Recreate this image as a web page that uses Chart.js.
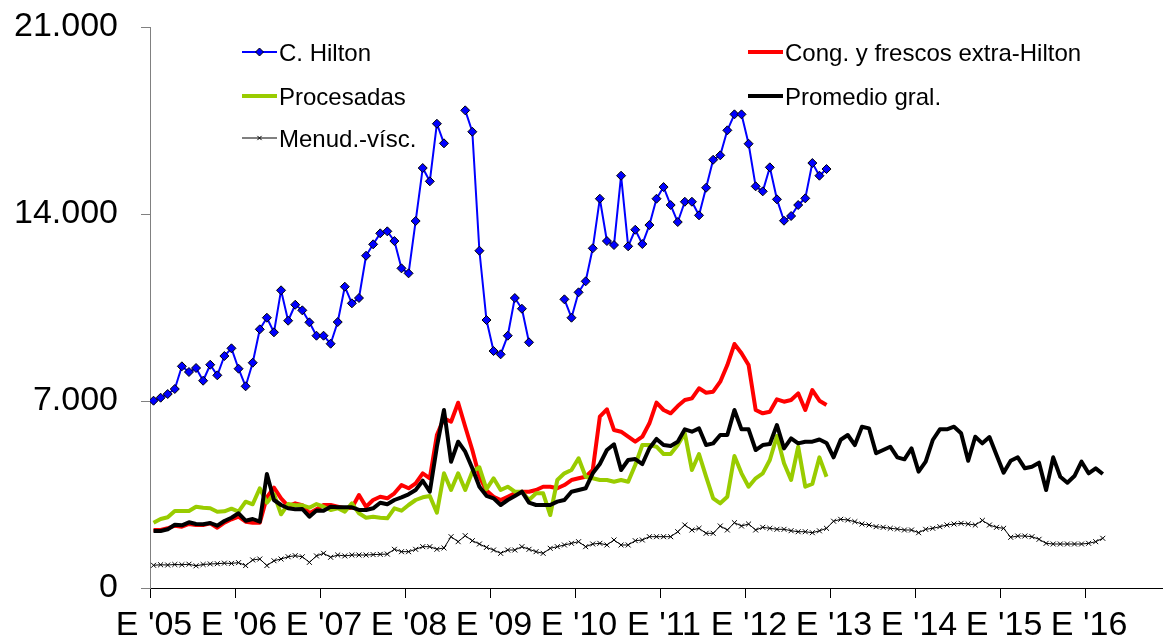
<!DOCTYPE html>
<html>
<head>
<meta charset="utf-8">
<script src="https://cdn.jsdelivr.net/npm/chart.js@4.4.1/dist/chart.umd.min.js"></script>
<style>
    html, body { margin: 0; padding: 0; background: #fff; }
    #wrap { position: relative; width: 1163px; height: 643px; }
</style>
</head>
<body>
<div id="wrap"><canvas id="chart"></canvas></div>
<script>
// Serie mensual: enero 2005 (indice 0) a marzo 2016 (indice 134)
const yearTicks = [0, 12, 24, 36, 48, 60, 72, 84, 96, 108, 120, 132];
const yearLabels = ["E '05", "E '06", "E '07", "E '08", "E '09", "E '10", "E '11", "E '12", "E '13", "E '14", "E '15", "E '16"];

const yTicks = [0, 7000, 14000, 21000];
const yLabels = ['0', '7.000', '14.000', '21.000'];

const hilton = [
    7011, 7123, 7261, 7449, 8298, 8085, 8235, 7759, 8358, 7961, 8684, 8972,
    8208, 7550, 8433, 9683, 10117, 9571, 11143, 10005, 10604, 10394, 9945, 9444,
    9444, 9144, 9956, 11278, 10656, 10855, 12438, 12865, 13276, 13351, 12988, 11966,
    11779, 13737, 15721, 15223, 17379, 16645, null, null, 17880, 17079, 12625, 10031,
    8871, 8747, 9444, 10855, 10454, 9197, null, null, null, null, 10806, 10117,
    11068, 11480, 12715, 14572, 12988, 12838, 15433, 12790, 13411, 12876, 13587, 14572,
    15009, 14336, 13699, 14459, 14459, 13950, 14983, 16031, 16196, 17132, 17731, 17731,
    16630, 15036, 14848, 15747, 14549, 13748, 13924, 14336, 14586, 15908, 15433, 15683
];

const congelados = [
    2171, 2171, 2234, 2332, 2295, 2396, 2358, 2358, 2421, 2258, 2444, 2571,
    2669, 2482, 2444, 2444, 3400, 3754, 3357, 3069, 3170, 3100, 2800, 2950,
    3107, 3107, 3043, 2983, 3000, 3481, 3043, 3294, 3417, 3357, 3545, 3855,
    3732, 3918, 4293, 4106, 5727, 6352, 6225, 6936, 6038, 5165, 4166, 3650,
    3417, 3294, 3417, 3545, 3605, 3605, 3668, 3792, 3792, 3732, 3855, 4042,
    4106, 4166, 4417, 6412, 6689, 5914, 5851, 5663, 5476, 5663, 6165, 6940,
    6663, 6539, 6812, 7037, 7100, 7475, 7310, 7348, 7722, 8347, 9133, 8785,
    8347, 6663, 6539, 6600, 7063, 6973, 7037, 7287, 6663, 7411, 7011, 6850
];

const procesadas = [
    2444, 2583, 2646, 2882, 2882, 2882, 3043, 3006, 2983, 2856, 2870, 2968,
    2856, 3230, 3133, 3732, 3193, 3518, 2759, 3144, 3095, 3095, 3006, 3144,
    3043, 2920, 2983, 2856, 3170, 2796, 2631, 2669, 2631, 2608, 2983, 2894,
    3107, 3294, 3394, 3444, 2819, 4293, 3668, 4293, 3668, 4355, 4517, 3700,
    4106, 3668, 3792, 3605, 3605, 3294, 3545, 3545, 2732, 4042, 4293, 4417,
    4854, 4166, 4106, 4042, 4042, 3979, 4042, 3979, 4604, 5352, 5352, 5289,
    5016, 5016, 5352, 5790, 4417, 5016, 4166, 3357, 3170, 3417, 4941, 4293,
    3792, 4106, 4293, 4791, 5689, 4667, 4042, 5289, 3792, 3893, 4892, 4166
];

const promedio = [
    2134, 2134, 2197, 2369, 2347, 2459, 2396, 2384, 2433, 2332, 2508, 2631,
    2796, 2519, 2583, 2482, 4267, 3294, 3107, 2983, 2946, 2957, 2669, 2900,
    2894, 3043, 3019, 3019, 3019, 2920, 2920, 2983, 3193, 3133, 3294, 3394,
    3507, 3668, 4016, 3605, 5289, 6663, 4727, 5476, 5102, 4480, 3792, 3450,
    3357, 3107, 3294, 3444, 3605, 3193, 3107, 3107, 3107, 3232, 3294, 3605,
    3668, 3732, 4293, 4641, 5165, 5379, 4417, 4791, 4828, 4641, 5230, 5580,
    5352, 5315, 5476, 5940, 5851, 5977, 5352, 5415, 5727, 5727, 6663, 5940,
    5940, 5165, 5352, 5390, 6101, 5228, 5603, 5415, 5476, 5476, 5560, 5430,
    4892, 5550, 5727, 5352, 6038, 5977, 5042, 5165, 5289, 4892, 4817, 5228,
    4355, 4729, 5540, 5940, 5940, 6038, 5790, 4765, 5663, 5415, 5650, 4978,
    4317, 4765, 4892, 4480, 4541, 4691, 3668, 4892, 4166, 3941, 4192, 4729,
    4293, 4480, 4267
];

const menudencias = [
    850, 870, 860, 880, 870, 890, 830, 880, 900, 910, 930, 920,
    950, 840, 1050, 1085, 840, 1020, 1085, 1170, 1210, 1170, 960, 1200,
    1298, 1150, 1235, 1200, 1235, 1235, 1235, 1250, 1260, 1270, 1448, 1360,
    1360, 1448, 1547, 1547, 1450, 1500, 1921, 1734, 1958, 1771, 1647, 1520,
    1422, 1298, 1422, 1422, 1547, 1448, 1360, 1298, 1485, 1547, 1610, 1672,
    1734, 1547, 1647, 1672, 1610, 1797, 1610, 1610, 1771, 1797, 1921, 1921,
    1921, 1921, 2107, 2358, 2171, 2234, 2047, 2047, 2321, 2171, 2444, 2321,
    2396, 2171, 2271, 2234, 2197, 2197, 2145, 2107, 2107, 2070, 2140, 2234,
    2500, 2571, 2545, 2482, 2396, 2358, 2295, 2271, 2234, 2208, 2171, 2171,
    2070, 2197, 2234, 2295, 2358, 2396, 2421, 2396, 2358, 2530, 2358, 2271,
    2234, 1898, 1946, 1946, 1921, 1823, 1672, 1647, 1647, 1647, 1647, 1647,
    1672, 1734, 1860
];

const FONT = '"Liberation Sans", Arial, sans-serif';

// cada mes se dibuja en el centro de su intervalo
function toPoints(values) {
    return values.map((v, i) => ({ x: i + 0.5, y: v }));
}

// leyenda en dos columnas como la original
const legendBoxes = {
    id: 'legendBoxes',
    afterDraw(chart) {
        const ctx = chart.ctx;
        const items = [
            { ds: 0, x: 242, y: 52, text: 'C. Hilton' },
            { ds: 1, x: 748, y: 52, text: 'Cong. y frescos extra-Hilton' },
            { ds: 2, x: 242, y: 96, text: 'Procesadas' },
            { ds: 3, x: 748, y: 96, text: 'Promedio gral.' },
            { ds: 4, x: 242, y: 138, text: 'Menud.-vísc.' }
        ];
        ctx.save();
        items.forEach(item => {
            const ds = chart.data.datasets[item.ds];
            ctx.strokeStyle = ds.borderColor;
            ctx.lineWidth = ds.borderWidth;
            ctx.beginPath();
            ctx.moveTo(item.x, item.y);
            ctx.lineTo(item.x + 35, item.y);
            ctx.stroke();
            if (ds.pointRadius > 0) {
                ctx.fillStyle = ds.pointBackgroundColor;
                ctx.strokeStyle = ds.pointBorderColor;
                ctx.lineWidth = ds.pointBorderWidth;
                Chart.helpers.drawPoint(ctx, {
                    pointStyle: ds.pointStyle,
                    radius: ds.pointRadius - 0.5,
                    borderWidth: ds.pointBorderWidth
                }, item.x + 17.5, item.y);
            }
            ctx.fillStyle = '#000';
            ctx.font = '24px ' + FONT;
            ctx.textBaseline = 'alphabetic';
            ctx.fillText(item.text, item.x + 37, item.y + 9);
        });
        ctx.restore();
    }
};

new Chart(document.getElementById('chart'), {
    type: 'line',
    data: {
        datasets: [
            {
                label: 'C. Hilton',
                data: toPoints(hilton),
                borderColor: '#0000FF',
                borderWidth: 2,
                pointStyle: 'rectRot',
                pointRadius: 4.5,
                pointBackgroundColor: '#0000FF',
                pointBorderColor: '#000',
                pointBorderWidth: 1,
                order: 4
            },
            {
                label: 'Cong. y frescos extra-Hilton',
                data: toPoints(congelados),
                borderColor: '#FF0000',
                borderWidth: 4,
                pointRadius: 0,
                order: 3
            },
            {
                label: 'Procesadas',
                data: toPoints(procesadas),
                borderColor: '#99CC00',
                borderWidth: 4,
                pointRadius: 0,
                order: 2
            },
            {
                label: 'Promedio gral.',
                data: toPoints(promedio),
                borderColor: '#000',
                borderWidth: 4,
                pointRadius: 0,
                order: 1
            },
            {
                label: 'Menud.-vísc.',
                data: toPoints(menudencias),
                borderColor: '#000',
                borderWidth: 1,
                pointStyle: 'crossRot',
                pointRadius: 3.5,
                pointBackgroundColor: '#000',
                pointBorderColor: '#000',
                pointBorderWidth: 1,
                order: 0
            }
        ]
    },
    options: {
        responsive: true,
        maintainAspectRatio: false,
        animation: false,
        spanGaps: false,
        elements: { line: { tension: 0, borderJoinStyle: 'round' } },
        layout: { autoPadding: false, padding: { top: 27, right: 0, bottom: 0, left: 0 } },
        plugins: {
            legend: { display: false },
            tooltip: { enabled: false }
        },
        scales: {
            x: {
                type: 'linear',
                min: 0,
                max: 143,
                afterBuildTicks: s => { s.ticks = yearTicks.map(v => ({ value: v })); },
                afterFit: s => {
                    s.height = 55;
                    s.paddingLeft = 0;
                    s.paddingRight = 0;
                },
                grid: { drawOnChartArea: false, drawTicks: true, tickLength: 10, color: '#000', lineWidth: 1 },
                border: { color: '#000', width: 1 },
                ticks: {
                    callback: v => yearLabels[yearTicks.indexOf(v)],
                    font: { family: FONT, size: 34 },
                    color: '#000',
                    padding: 7,
                    labelOffset: 4,
                    maxRotation: 0,
                    autoSkip: false
                }
            },
            y: {
                min: 0,
                max: 21000,
                afterBuildTicks: s => { s.ticks = yTicks.map(v => ({ value: v })); },
                afterFit: s => {
                    s.width = 150;
                    s.paddingTop = 0;
                    s.paddingBottom = 0;
                },
                grid: { drawOnChartArea: false, drawTicks: true, tickLength: 9, color: '#808080', lineWidth: 1 },
                border: { color: '#808080', width: 1 },
                ticks: {
                    callback: v => yLabels[yTicks.indexOf(v)],
                    font: { family: FONT, size: 34 },
                    color: '#000',
                    padding: 23
                }
            }
        }
    },
    plugins: [legendBoxes]
});
</script>
</body>
</html>
